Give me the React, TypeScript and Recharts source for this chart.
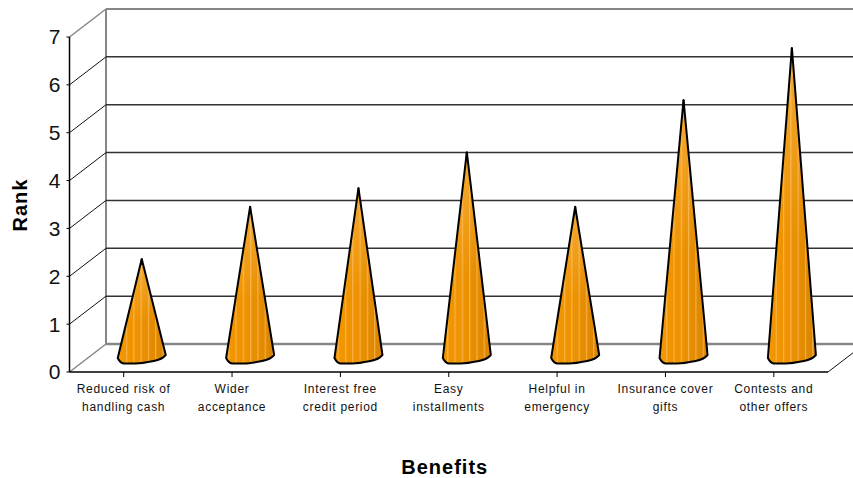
import { BarChart, Bar, XAxis, YAxis, ReferenceLine, Label } from 'recharts'

const categories = [
  'Reduced risk of\nhandling cash',
  'Wider\nacceptance',
  'Interest free\ncredit period',
  'Easy\ninstallments',
  'Helpful in\nemergency',
  'Insurance cover\ngifts',
  'Contests and\nother offers',
]
const ranks = [2.07, 3.16, 3.55, 4.3, 3.16, 5.39, 6.48]
const rankTicks = [0, 1, 2, 3, 4, 5, 6, 7]
const gridRanks = [1, 2, 3, 4, 5, 6]

const data = categories.map((name, i) => ({ name, rank: ranks[i] }))

const FONT = '"Liberation Sans", Arial, sans-serif'
const WALL = '#868686'
const GRID = '#333333'

// Depth of the fake 3D box: how far the back wall sits from the front plane.
const DEPTH_X = 36.5
const DEPTH_Y = 28

// A gridline runs up the side wall and then along the back wall.
function WallLine(props: any) {
  const { x1, y1, x2, stroke, strokeWidth } = props
  return (
    <g fill="none">
      <path
        d={`M${x1},${y1} L${x1 + DEPTH_X},${y1 - DEPTH_Y}`}
        stroke={stroke === WALL ? WALL : '#111'}
        strokeWidth={stroke === WALL ? 1.5 : 1}
      />
      <path
        d={`M${x1 + DEPTH_X},${y1 - DEPTH_Y} L${x2 + DEPTH_X},${y1 - DEPTH_Y}`}
        stroke={stroke}
        strokeWidth={strokeWidth}
      />
    </g>
  )
}

function FloorLine(props: any) {
  const { x1, y1, x2 } = props
  return (
    <g fill="none">
      <WallLine {...props} />
      <path d={`M${x2},${y1} L${x2 + DEPTH_X},${y1 - DEPTH_Y}`} stroke="#111" strokeWidth={1} />
      <path d={`M${x1 + DEPTH_X},${y1 - DEPTH_Y} V9`} stroke={WALL} strokeWidth={2} />
    </g>
  )
}

// Cone standing on the middle of the floor, tip at the bar's value.
function Cone(props: any) {
  const { x, y, width, height } = props
  const cx = x + width / 2 + DEPTH_X / 2
  const r = width / 2
  const tip = y - DEPTH_Y / 2
  const base = y + height - DEPTH_Y / 2
  const outline =
    `M${cx},${tip} L${cx + r},${base - 3} ` +
    `C${cx + r - 3},${base + 0.5} ${cx + r - 7},${base + 2} ${cx + r - 12},${base + 3} ` +
    `C${cx + r - 17},${base + 4} ${cx - 2},${base + 5.5} ${cx - 6},${base + 5.5} ` +
    `L${cx - r + 6},${base + 5.5} ` +
    `C${cx - r + 3},${base + 5} ${cx - r + 1},${base + 2} ${cx - r},${base} Z`
  return (
    <g>
      <path d={outline} fill="url(#coneShade)" />
      <path d={outline} fill="url(#coneStripes)" />
      <path d={outline} fill="url(#coneFade)" />
      <path d={outline} fill="none" stroke="#000" strokeWidth={2} strokeLinejoin="round" />
      <path d={`M${cx},${tip} v6`} stroke="#000" strokeWidth={2} />
    </g>
  )
}

function CategoryTick(props: any) {
  const { x, y, payload } = props
  return (
    <text
      x={x}
      y={y}
      textAnchor="middle"
      fontFamily={FONT}
      fontSize={12}
      letterSpacing={0.7}
      fill="#111"
    >
      {String(payload.value)
        .split('\n')
        .map((line, i) => (
          <tspan key={line} x={x} dy={i === 0 ? 13.5 : 18}>
            {line}
          </tspan>
        ))}
    </text>
  )
}

export default function App() {
  return (
    <div style={{ width: 853, height: 478, background: '#fff' }}>
      <style>{'body{margin:0}'}</style>
      <BarChart
        width={853}
        height={478}
        data={data}
        margin={{ top: 37, right: 25, bottom: 0, left: 0 }}
      >
        <defs>
          <linearGradient id="coneShade" x1="0" y1="0" x2="1" y2="0">
            <stop offset="0%" stopColor="#F29600" />
            <stop offset="45%" stopColor="#EE9200" />
            <stop offset="100%" stopColor="#D98400" />
          </linearGradient>
          <linearGradient id="coneFade" x1="0" y1="0" x2="0" y2="1">
            <stop offset="0%" stopColor="#FFD080" stopOpacity={0.4} />
            <stop offset="60%" stopColor="#FFD080" stopOpacity={0} />
          </linearGradient>
          <pattern id="coneStripes" width={7.3} height={10} patternUnits="userSpaceOnUse">
            <rect x={2} width={1} height={10} fill="#FFC97A" fillOpacity={0.7} />
          </pattern>
        </defs>
        <XAxis
          dataKey="name"
          interval={0}
          height={106}
          axisLine={{ stroke: '#000', strokeWidth: 1.5 }}
          tickLine={{ stroke: '#000' }}
          tickSize={5}
          tick={<CategoryTick />}
        >
          <Label
            value="Benefits"
            position="insideBottom"
            offset={0}
            dy={-4}
            dx={-4}
            fontFamily={FONT}
            fontSize={20}
            fontWeight="bold"
            letterSpacing={1}
            fill="#000"
          />
        </XAxis>
        <YAxis
          width={69.5}
          domain={[0, 7]}
          ticks={rankTicks}
          interval={0}
          axisLine={{ stroke: '#000', strokeWidth: 1.5 }}
          tickLine={{ stroke: '#000' }}
          tickSize={3}
          tick={{ fill: '#111', fontSize: 21, fontFamily: FONT }}
          tickMargin={6}
        >
          <Label
            value="Rank"
            angle={-90}
            position="insideLeft"
            dx={15}
            dy={27}
            fontFamily={FONT}
            fontSize={20}
            fontWeight="bold"
            letterSpacing={1}
            fill="#000"
          />
        </YAxis>
        <ReferenceLine y={0} stroke={WALL} strokeWidth={2.5} shape={<FloorLine />} zIndex={-100} />
        <ReferenceLine y={7} stroke={WALL} strokeWidth={2} shape={<WallLine />} zIndex={-100} />
        {gridRanks.map((v) => (
          <ReferenceLine
            key={v}
            y={v}
            stroke={GRID}
            strokeWidth={1.5}
            shape={<WallLine />}
            zIndex={-100}
          />
        ))}
        <Bar dataKey="rank" barSize={48} shape={<Cone />} isAnimationActive={false} />
      </BarChart>
    </div>
  )
}
